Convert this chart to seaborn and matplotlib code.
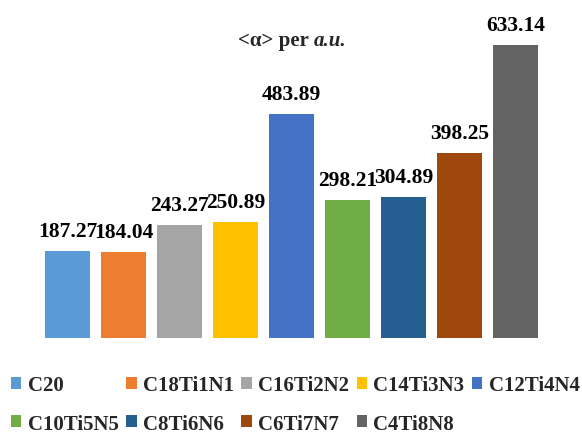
import matplotlib
matplotlib.use("Agg")
import matplotlib.pyplot as plt
from matplotlib.patches import Patch
import seaborn as sns
import pandas as pd

# Mean polarizability per structure
structures = ["C20", "C18Ti1N1", "C16Ti2N2", "C14Ti3N3", "C12Ti4N4",
              "C10Ti5N5", "C8Ti6N6", "C6Ti7N7", "C4Ti8N8"]
alpha_values = [187.27, 184.04, 243.27, 250.89, 483.89,
                298.21, 304.89, 398.25, 633.14]
bar_colors = ["#5B9BD5", "#ED7D31", "#A5A5A5", "#FFC000", "#4472C4",
              "#70AD47", "#255E91", "#9E480E", "#636363"]

sns.set_theme(style="white")
plt.rcParams["font.family"] = ["Liberation Serif", "DejaVu Serif"]
plt.rcParams["font.weight"] = "bold"

W, H = 582, 435
DPI = 100
fig = plt.figure(figsize=(W / DPI, H / DPI), dpi=DPI)
fig.patch.set_facecolor("white")

# plot area in pixel units
left_px, right_px = 39.5, 543.5
base_px, top_px = 338.5, 15.0
ax = fig.add_axes([left_px / W, (H - base_px) / H,
                   (right_px - left_px) / W, (base_px - top_px) / H])

df = pd.DataFrame({"structure": structures, "alpha": alpha_values})
sns.barplot(data=df, x="structure", y="alpha", hue="structure",
            palette=bar_colors, width=0.8, legend=False, ax=ax,
            saturation=1, edgecolor="none")

ax.set_xlim(-0.5, len(structures) - 0.5)
ax.set_ylim(0, 700)
ax.set_xlabel("")
ax.set_ylabel("")
ax.set_xticks([])
ax.set_yticks([])
for s in ax.spines.values():
    s.set_visible(False)
ax.set_facecolor("white")

# value labels above each bar
for p in ax.patches:
    h = p.get_height()
    if h <= 0:
        continue
    ax.annotate(f"{h:.2f}", (p.get_x() + p.get_width() / 2, h),
                xytext=(0, 15), textcoords="offset pixels",
                ha="center", va="baseline", fontsize=15.5,
                fontweight="bold", color="black")

# title: "<α> per " bold, "a.u." bold italic
title_fs = 15
title_y = 1 - 46 / H
fig.canvas.draw()
renderer = fig.canvas.get_renderer()
t1 = fig.text(0, title_y, "<α> per", fontsize=title_fs, fontweight="bold",
              ha="left", va="baseline")
t2 = fig.text(0, title_y, "a.u.", fontsize=title_fs, fontweight="bold",
              fontstyle="italic", ha="left", va="baseline")
w1 = t1.get_window_extent(renderer).width
w2 = t2.get_window_extent(renderer).width
gap = 0.25 * title_fs * DPI / 72
total = w1 + gap + w2
x0 = (W - total) / 2 + 1
t1.set_x(x0 / W)
t2.set_x((x0 + w1 + gap) / W)

# legend laid out in two rows, row-major order, equal column pitch
order = [0, 5, 1, 6, 2, 7, 3, 8, 4]
handles = [Patch(facecolor=bar_colors[i], edgecolor="none") for i in order]
labels = [structures[i] for i in order]
legend_fs = 15
fs_px = legend_fs * DPI / 72
col_pitch = 115.25


def make_legend(colspacing):
    return fig.legend(handles, labels, ncol=5, loc="upper left",
                      bbox_to_anchor=(11 / W, 1 - 376 / H),
                      bbox_transform=fig.transFigure,
                      frameon=False, borderpad=0, borderaxespad=0,
                      handlelength=0.5, handleheight=0.5, handletextpad=0.3,
                      columnspacing=colspacing, labelspacing=0.9,
                      prop={"size": legend_fs, "weight": "bold"})


cs = 0.2
leg = make_legend(cs)
for _ in range(3):
    fig.canvas.draw()
    texts = leg.get_texts()
    first = texts[0].get_window_extent(renderer).x0
    last = texts[8].get_window_extent(renderer).x0
    pitch = (last - first) / 4
    leg.remove()
    cs = cs + (col_pitch - pitch) / fs_px
    leg = make_legend(cs)

fig.savefig("out.png", dpi=DPI, facecolor="white")
